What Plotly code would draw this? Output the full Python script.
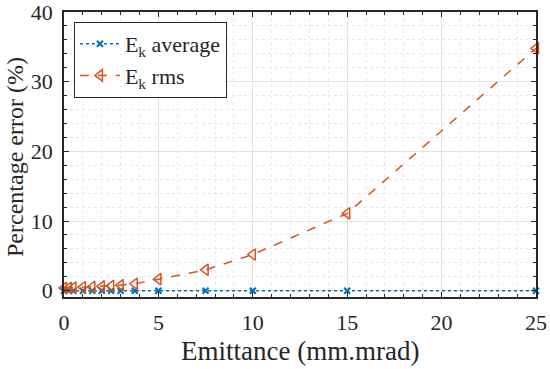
import plotly.graph_objects as go

emittance = [0, 0.25, 0.5, 1, 1.5, 2, 2.5, 3, 3.75, 5, 7.5, 10, 15, 25]
ek_average = [0, 0, 0, 0, 0, 0, 0, 0, 0, 0, 0, 0, 0, 0]
ek_rms = [0.4, 0.42, 0.45, 0.5, 0.55, 0.62, 0.7, 0.8, 1.0, 1.65, 3.0, 5.2, 11.1, 34.8]

BLUE = "#0072BD"
ORANGE = "#D95319"
FONT = "Liberation Serif"
AX = "#262626"

fig = go.Figure()
fig.add_trace(go.Scatter(
    x=emittance, y=ek_average, mode="lines+markers", name="E<sub>k</sub> average",
    line=dict(color=BLUE, width=1.5, dash="dot"),
    marker=dict(symbol="x-thin", size=6, line=dict(color=BLUE, width=2.2)),
    cliponaxis=False,
))
fig.add_trace(go.Scatter(
    x=emittance, y=ek_rms, mode="lines+markers", name="E<sub>k</sub> rms",
    line=dict(color=ORANGE, width=1.5, dash="dash"),
    marker=dict(symbol="triangle-left-open", size=10, color=ORANGE, line=dict(color=ORANGE, width=1.5)),
    cliponaxis=False,
))

axis_common = dict(
    showline=True, linecolor=AX, linewidth=1.5, mirror="ticks",
    ticks="inside", ticklen=5, tickcolor=AX, tickwidth=1,
    showgrid=True, gridcolor="#e3e3e3", gridwidth=1,
    zeroline=False, automargin=False, ticklabeloverflow="allow",
    tickfont=dict(family=FONT, size=22, color="#262626"),
)

fig.update_xaxes(
    **axis_common,
    range=[0, 25], tickvals=[0, 5, 10, 15, 20, 25],
    minor=dict(dtick=1, ticks="inside", ticklen=3, tickcolor=AX, showgrid=True,
               gridcolor="#e8e8e8", griddash="dot", gridwidth=1),
    ticklabelstandoff=5,
)
fig.update_yaxes(
    **axis_common,
    range=[-0.9, 40], tickvals=[0, 10, 20, 30, 40],
    minor=dict(dtick=2, ticks="inside", ticklen=3, tickcolor=AX, showgrid=True,
               gridcolor="#e8e8e8", griddash="dot", gridwidth=1),
    ticklabelstandoff=5,
)

fig.add_annotation(text="Emittance (mm.mrad)", xref="paper", yref="paper",
                   x=0.5, y=-0.19, xanchor="center", yanchor="middle", showarrow=False,
                   font=dict(family=FONT, size=27, color="#262626"))
fig.add_annotation(text="Percentage error (%)", xref="paper", yref="paper",
                   x=-0.104, y=0.491, xanchor="center", yanchor="middle", showarrow=False,
                   textangle=-90, font=dict(family=FONT, size=24, color="#262626"))

fig.update_layout(
    width=550, height=369,
    margin=dict(l=64, r=14, t=12, b=72),
    plot_bgcolor="white", paper_bgcolor="white",
    legend=dict(x=0.021, y=0.965, xanchor="left", yanchor="top",
                bgcolor="white", bordercolor=AX, borderwidth=1,
                font=dict(family=FONT, size=22, color="#262626"),
                itemwidth=40, tracegroupgap=0),
    showlegend=True,
)

fig.write_html("out.html", config={"displayModeBar": False},
               post_script="document.body.style.margin='0';document.body.style.padding='0';")
